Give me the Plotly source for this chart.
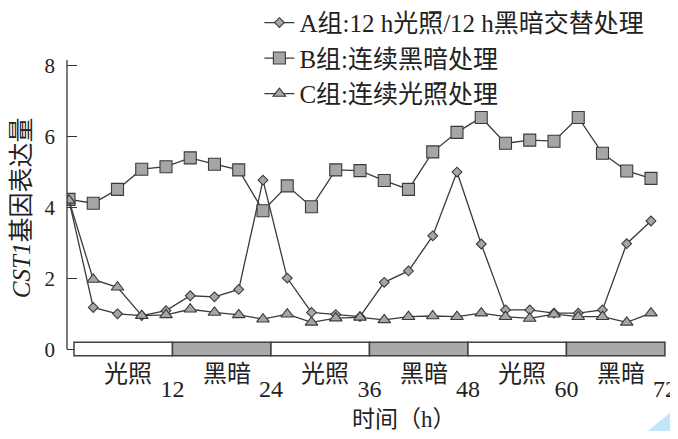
import plotly.graph_objects as go

# ---- data ----
hours = [0, 3, 6, 9, 12, 15, 18, 21, 24, 27, 30, 33, 36, 39, 42, 45, 48, 51, 54, 57, 60, 63, 66, 69, 72]
group_a = [4.2, 1.18, 1.0, 0.95, 1.09, 1.51, 1.48, 1.69, 4.77, 2.01, 1.04, 0.98, 0.92, 1.89, 2.21, 3.2,
           5.0, 2.97, 1.11, 1.11, 1.02, 1.02, 1.11, 2.98, 3.62]
group_b = [4.23, 4.12, 4.51, 5.08, 5.15, 5.4, 5.22, 5.06, 3.91, 4.61, 4.02, 5.06, 5.04, 4.76, 4.51, 5.57,
           6.12, 6.54, 5.81, 5.9, 5.87, 6.54, 5.53, 5.03, 4.82]
group_c = [4.2, 1.97, 1.75, 0.95, 0.97, 1.13, 1.04, 0.97, 0.85, 0.99, 0.76, 0.88, 0.9, 0.83, 0.92, 0.94,
           0.92, 1.02, 0.92, 0.87, 0.99, 0.92, 0.92, 0.76, 1.02]
names = ["A组:12 h光照/12 h黑暗交替处理", "B组:连续黑暗处理", "C组:连续光照处理"]
period_edges = [0, 12, 24, 36, 48, 60, 72]
period_labels = ["光照", "黑暗", "光照", "黑暗", "光照", "黑暗"]
period_fill = ["white", "#a9a9a9", "white", "#a9a9a9", "white", "#a9a9a9"]
x_ticks = [12, 24, 36, 48, 60, 72]
y_ticks = [0, 2, 4, 6, 8]

SERIF = "Liberation Serif, Noto Sans CJK SC, serif"
LINE = "#3a3a3a"
FILL = "#a6a6a6"

fig = go.Figure()
for name, vals, sym, size in [(names[0], group_a, "diamond", 7.5),
                              (names[1], group_b, "square", 12),
                              (names[2], group_c, "triangle-up", 11)]:
    fig.add_trace(go.Scatter(
        x=hours, y=vals, name=name, mode="lines+markers",
        line=dict(color=LINE, width=1.3),
        marker=dict(symbol=sym, size=size, color=FILL, line=dict(color=LINE, width=1.1)),
        xaxis="x", yaxis="y"))

# dummy trace to activate x2 axis
fig.add_trace(go.Scatter(x=[0, 72], y=[None, None], xaxis="x2", yaxis="y",
                         showlegend=False, hoverinfo="skip"))

shapes = []
annotations = []
for i in range(len(period_labels)):
    shapes.append(dict(type="rect", xref="x2", yref="y", x0=period_edges[i], x1=period_edges[i + 1],
                       y0=-0.18, y1=0.2, fillcolor=period_fill[i], line=dict(color="#404040", width=1.5),
                       layer="above"))
    annotations.append(dict(xref="x2", yref="paper", x=(period_edges[i] + period_edges[i + 1]) / 2 + 0.6,
                            y=-0.055, text=period_labels[i], showarrow=False, yanchor="middle",
                            xanchor="center",
                            font=dict(family=SERIF, size=24, color="#222")))

# y axis line from 0 to top
shapes.append(dict(type="line", xref="paper", yref="y", x0=0, x1=0, y0=0, y1=8.16,
                   line=dict(color="#333", width=1.3)))
# decorative corner
shapes.append(dict(type="path", xref="paper", yref="paper",
                   path="M 1.0099 -0.162 L 1.0099 -0.245 L 0.960 -0.245 Z",
                   fillcolor="#c2e5f8", line=dict(width=0), layer="below"))

annotations.append(dict(xref="paper", yref="paper", x=-0.076, y=0.503, textangle=-90,
                        xanchor="center", yanchor="middle",
                        text="<i>CST1</i>基因表达量", showarrow=False,
                        font=dict(family=SERIF, size=25, color="#222")))
annotations.append(dict(xref="paper", yref="paper", x=0.557, y=-0.208, text="时间（h）",
                        showarrow=False, yanchor="middle", xanchor="center",
                        font=dict(family=SERIF, size=23, color="#222")))

fig.update_layout(
    width=670, height=423,
    margin=dict(l=59, r=6, t=52, b=73, autoexpand=False),
    paper_bgcolor="white", plot_bgcolor="white",
    font=dict(family=SERIF, color="#222"),
    showlegend=True,
    legend=dict(x=0.318, y=1.202, xanchor="left", yanchor="top", bgcolor="rgba(0,0,0,0)",
                font=dict(family=SERIF, size=25, color="#222"), tracegroupgap=0, itemwidth=30),
    xaxis=dict(range=[-0.247, 74.6], visible=False),
    xaxis2=dict(range=[-0.853, 72.86], overlaying="x", side="bottom", anchor="y",
                tickvals=x_ticks, ticktext=[str(v) for v in x_ticks], showgrid=False,
                showline=False, zeroline=False, ticks="", ticklabelstandoff=14,
                tickfont=dict(family=SERIF, size=24, color="#222")),
    yaxis=dict(range=[-0.245, 8.16], tickvals=y_ticks, showgrid=False, zeroline=False,
               showline=False, ticks="inside", ticklen=10, tickwidth=1.3, tickcolor="#333",
               ticklabelstandoff=11, tickfont=dict(family=SERIF, size=21, color="#222")),
    shapes=shapes, annotations=annotations,
)

fig.write_html("out.html")
